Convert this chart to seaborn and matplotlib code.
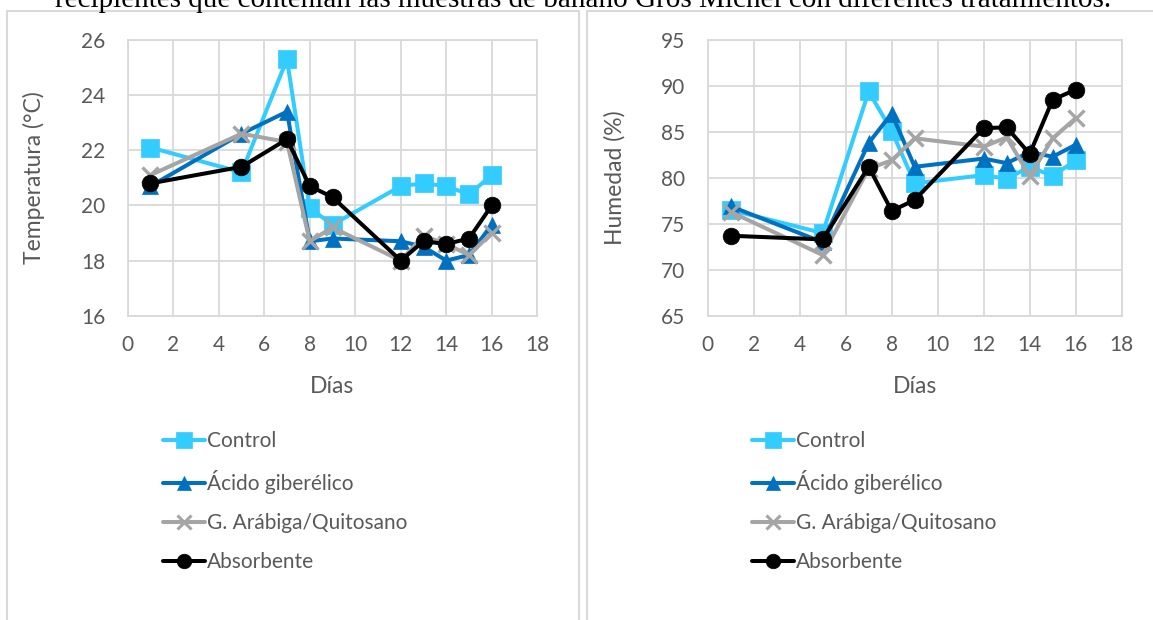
import matplotlib
matplotlib.use("Agg")
import matplotlib.pyplot as plt
import numpy as np
import pandas as pd
import seaborn as sns
from matplotlib.lines import Line2D

# Days of storage
dias = [1, 5, 7, 8, 9, 12, 13, 14, 15, 16]
tratamientos = ["Control", "Ácido giberélico", "G. Arábiga/Quitosano", "Absorbente"]

# Temperature (°C)
temp_control = [22.1, 21.2, 25.3, 19.9, 19.3, 20.7, 20.8, 20.7, 20.4, 21.1]
temp_acido = [20.7, 22.6, 23.4, 18.7, 18.8, 18.7, 18.5, 18.0, 18.2, 19.3]
temp_goma = [21.1, 22.6, 22.3, 18.7, 19.2, 18.0, 18.9, 18.6, 18.2, 19.0]
temp_absorbente = [20.8, 21.4, 22.4, 20.7, 20.3, 18.0, 18.7, 18.6, 18.8, 20.0]

# Relative humidity (%)
hum_control = [76.5, 74.0, 89.4, 85.1, 79.4, 80.3, 79.9, 81.2, 80.2, 81.9]
hum_acido = [76.9, 73.0, 83.8, 87.0, 81.2, 82.1, 81.6, 82.8, 82.3, 83.6]
hum_goma = [76.3, 71.6, 81.0, 81.9, 84.3, 83.4, 84.4, 80.2, 84.3, 86.5]
hum_absorbente = [73.7, 73.3, 81.2, 76.4, 77.6, 85.4, 85.5, 82.6, 88.5, 89.6]

x_ticks = [0, 2, 4, 6, 8, 10, 12, 14, 16, 18]
temp_ticks = [16, 18, 20, 22, 24, 26]
hum_ticks = [65, 70, 75, 80, 85, 90, 95]

colores = ["#33CCFF", "#0070C0", "#A5A5A5", "#000000"]
marcadores = ["s", "^", "x", "o"]
tamanos = [12.5, 12, 12, 12]


def tabla(series):
    filas = []
    for nombre, valores in zip(tratamientos, series):
        for d, v in zip(dias, valores):
            filas.append({"Días": d, "valor": v, "Tratamiento": nombre})
    return pd.DataFrame(filas)


df_temp = tabla([temp_control, temp_acido, temp_goma, temp_absorbente])
df_hum = tabla([hum_control, hum_acido, hum_goma, hum_absorbente])

sns.set_theme(style="whitegrid")
plt.rcParams["font.family"] = ["Lato", "DejaVu Sans"]

W, H = 1153, 620
fig = plt.figure(figsize=(W / 100, H / 100), dpi=100)
fig.patch.set_facecolor("white")


def rect(x0, y0, x1, y1):
    return [x0 / W, 1 - y1 / H, (x1 - x0) / W, (y1 - y0) / H]


GRIS = "#D9D9D9"
TEXTO = "#595959"
FS = 15


def dibujar(ax, df, yticks, ylabel):
    for nombre, c, m, s in zip(tratamientos, colores, marcadores, tamanos):
        sub = df[df["Tratamiento"] == nombre]
        sns.lineplot(
            data=sub, x="Días", y="valor", color=c, marker=m,
            markersize=s, markerfacecolor=c, markeredgecolor=c,
            markeredgewidth=(2.4 if m == "x" else 0.5),
            linewidth=2.9, legend=False, ax=ax, sort=False, errorbar=None,
        )
    ax.set_xlim(x_ticks[0], x_ticks[-1])
    ax.set_ylim(yticks[0], yticks[-1])
    ax.set_xticks(x_ticks)
    ax.set_yticks(yticks)
    ax.grid(True, color=GRIS, linewidth=1.3)
    for sp in ax.spines.values():
        sp.set_color(GRIS)
        sp.set_linewidth(1.3)
    ax.tick_params(axis="both", length=0, labelsize=FS, colors=TEXTO)
    ax.tick_params(axis="y", pad=16)
    ax.tick_params(axis="x", pad=14)
    ax.set_xlabel("Días", fontsize=FS + 1.5, color=TEXTO, labelpad=15)
    ax.set_ylabel(ylabel, fontsize=FS + 1.5, color=TEXTO, labelpad=26)
    ax.set_facecolor("white")


ax1 = fig.add_axes(rect(127.7, 40, 537.3, 315.7))
ax2 = fig.add_axes(rect(707.7, 40, 1121.7, 315.7))
dibujar(ax1, df_temp, temp_ticks, "Temperatura (°C)")
dibujar(ax2, df_hum, hum_ticks, "Humedad (%)")

handles = [
    Line2D([], [], color=c, marker=m, markersize=s - 1.5, linewidth=2.9,
           markeredgecolor=c, markeredgewidth=(2.2 if m == "x" else 0.5))
    for c, m, s in zip(colores, marcadores, tamanos)
]
for x0 in (163 / W, 752 / W):
    leg = fig.legend(handles, tratamientos, loc="upper left",
                     bbox_to_anchor=(x0, 1 - 431 / H), frameon=False,
                     fontsize=FS, handlelength=2.0, handletextpad=0.12,
                     labelspacing=0.92, borderpad=0, borderaxespad=0)
    for t in leg.get_texts():
        t.set_color(TEXTO)

# Panel frames around each chart
for x0, x1 in ((7, 579), (587, 1200)):
    fig.add_artist(Line2D([x0 / W, x0 / W, x1 / W, x1 / W],
                          [-0.1, 1 - 11 / H, 1 - 11 / H, -0.1],
                          transform=fig.transFigure, color=GRIS, linewidth=1.5))

fig.text(583 / W, 1 - 7 / H,
         "recipientes que contenían las muestras de banano Gros Michel con diferentes tratamientos.",
         ha="center", va="baseline", fontsize=21, family="Liberation Serif", color="black")

fig.savefig("out.png", dpi=100)
